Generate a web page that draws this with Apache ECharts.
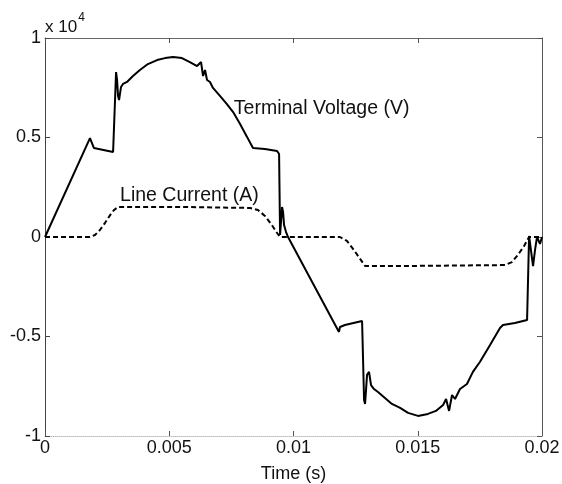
<!DOCTYPE html>
<html>
<head>
<meta charset="utf-8">
<script src="https://cdn.jsdelivr.net/npm/echarts@6/dist/echarts.min.js"></script>
<style>
html, body { margin: 0; padding: 0; background: #fff; }
#main { width: 562px; height: 484px; }
</style>
</head>
<body>
<div id="main"></div>
<script>
// time (s) and terminal voltage (x 10^4 V)
var voltT = [0, 0.00181, 0.00185, 0.00197, 0.00274, 0.00286, 0.00290, 0.00294, 0.00298, 0.00306,
  0.00314, 0.00330, 0.00354, 0.00382, 0.00414, 0.00451, 0.00483, 0.00515, 0.00551, 0.00583,
  0.00612, 0.00628, 0.00636, 0.00644, 0.00652, 0.00664, 0.00676, 0.00704, 0.00732, 0.00757,
  0.00785, 0.00813, 0.00837, 0.00885, 0.00934, 0.00942, 0.00946, 0.00950, 0.00954, 0.00958,
  0.00962, 0.00970, 0.00978, 0.01183, 0.01187, 0.01207, 0.01276, 0.01284, 0.01288, 0.01296,
  0.01304, 0.01312, 0.01324, 0.01340, 0.01368, 0.01396, 0.01429, 0.01461, 0.01501, 0.01541,
  0.01573, 0.01602, 0.01614, 0.01626, 0.01638, 0.01650, 0.01670, 0.01698, 0.01722, 0.01750,
  0.01791, 0.01831, 0.01843, 0.01891, 0.01940, 0.01948, 0.01956, 0.01964, 0.01972, 0.01980,
  0.01992, 0.02];
var voltV = [0, 0.497, 0.487, 0.447, 0.427, 0.829, 0.789, 0.709, 0.688, 0.754,
  0.769, 0.779, 0.809, 0.839, 0.869, 0.889, 0.899, 0.905, 0.899, 0.879,
  0.859, 0.879, 0.809, 0.839, 0.789, 0.779, 0.749, 0.709, 0.668, 0.628,
  0.568, 0.503, 0.447, 0.442, 0.432, 0.417, 0.010, 0.005, 0.151, 0.126,
  0.060, 0.025, 0, -0.477, -0.452, -0.442, -0.422, -0.819, -0.839, -0.693,
  -0.678, -0.744, -0.764, -0.779, -0.809, -0.839, -0.859, -0.884, -0.899, -0.889,
  -0.874, -0.844, -0.814, -0.874, -0.794, -0.814, -0.764, -0.739, -0.678, -0.628,
  -0.543, -0.457, -0.442, -0.432, -0.417, 0.005, 0, -0.146, -0.065, 0,
  -0.035, 0];

// time (s) and line current (x 10^4 A)
var curT = [0, 0.00181, 0.00201, 0.00221, 0.00241, 0.00262, 0.00278, 0.00294, 0.00543, 0.00825,
  0.00857, 0.00885, 0.00913, 0.00934, 0.00946, 0.01187, 0.01215, 0.01243, 0.01268, 0.01288,
  0.01429, 0.01851, 0.01879, 0.01903, 0.01928, 0.01948, 0.02];
var curI = [0, 0, 0.010, 0.035, 0.070, 0.110, 0.136, 0.151, 0.151, 0.146,
  0.136, 0.106, 0.060, 0.020, 0, 0, -0.020, -0.065, -0.110, -0.146,
  -0.146, -0.141, -0.126, -0.090, -0.045, 0, 0];

var xTicks = [0, 0.005, 0.01, 0.015, 0.02];
var yTicks = [-1, -0.5, 0, 0.5, 1];

function pairs(xs, ys) {
  var out = [];
  for (var i = 0; i < xs.length; i++) out.push([xs[i], ys[i]]);
  return out;
}

var myChart = echarts.init(document.getElementById('main'));
var font = 'Liberation Sans';

var option = {
  animation: false,
  backgroundColor: '#fff',
  grid: { left: 45, right: 20, top: 38, bottom: 48, show: false, containLabel: false, outerBoundsMode: 'none' },
  xAxis: [{
    type: 'value', min: 0, max: 0.02, interval: 0.005,
    name: 'Time (s)', nameLocation: 'middle', nameGap: 29,
    nameTextStyle: { fontFamily: font, fontSize: 18, color: '#111' },
    axisLine: { show: true, onZero: false, lineStyle: { color: '#bbb', width: 1, type: 'dotted' } },
    axisTick: { inside: true, length: 5, lineStyle: { color: '#555' } },
    axisLabel: { fontFamily: font, fontSize: 18, color: '#111', margin: 3,
      formatter: function (v) { return String(parseFloat(v.toFixed(3))); } },
    splitLine: { show: false }
  }, {
    type: 'value', min: 0, max: 0.02, interval: 0.005, position: 'top',
    axisLine: { show: true, onZero: false, lineStyle: { color: '#666', width: 1 } },
    axisTick: { inside: true, length: 5, lineStyle: { color: '#555' } },
    axisLabel: { show: false }, splitLine: { show: false }
  }],
  yAxis: [{
    type: 'value', min: -1, max: 1, interval: 0.5,
    axisLine: { show: true, onZero: false, lineStyle: { color: '#444', width: 1 } },
    axisTick: { inside: true, length: 5, lineStyle: { color: '#444' } },
    axisLabel: { fontFamily: font, fontSize: 18, color: '#111', margin: 4 },
    splitLine: { show: false }
  }, {
    type: 'value', min: -1, max: 1, interval: 0.5, position: 'right',
    axisLine: { show: true, onZero: false, lineStyle: { color: '#555', width: 1 } },
    axisTick: { inside: true, length: 5, lineStyle: { color: '#555' } },
    axisLabel: { show: false }, splitLine: { show: false }
  }],
  graphic: [{
    type: 'text', left: 45, top: 12,
    style: {
      text: '{a|x 10}{b|4}', fill: '#111',
      rich: {
        a: { fontFamily: font, fontSize: 17, padding: [10, 0, 0, 0] },
        b: { fontFamily: font, fontSize: 12, padding: [0, 0, 8, 1] }
      }
    }
  }],
  series: [{
    name: 'Terminal Voltage (V)', type: 'line', data: pairs(voltT, voltV),
    showSymbol: false, symbol: 'none',
    lineStyle: { color: '#000', width: 2 },
    markPoint: {
      symbol: 'circle', symbolSize: 0,
      data: [{ coord: [0.00760, 0.645],
        label: { show: true, formatter: 'Terminal Voltage (V)', position: 'right',
          fontFamily: font, fontSize: 19.5, color: '#111', distance: 0 } }]
    }
  }, {
    name: 'Line Current (A)', type: 'line', data: pairs(curT, curI),
    showSymbol: false, symbol: 'none',
    lineStyle: { color: '#000', width: 2, type: [5, 3] },
    markPoint: {
      symbol: 'circle', symbolSize: 0,
      data: [{ coord: [0.00302, 0.21],
        label: { show: true, formatter: 'Line Current (A)', position: 'right',
          fontFamily: font, fontSize: 19.5, color: '#111', distance: 0 } }]
    }
  }]
};

myChart.setOption(option);
</script>
</body>
</html>
